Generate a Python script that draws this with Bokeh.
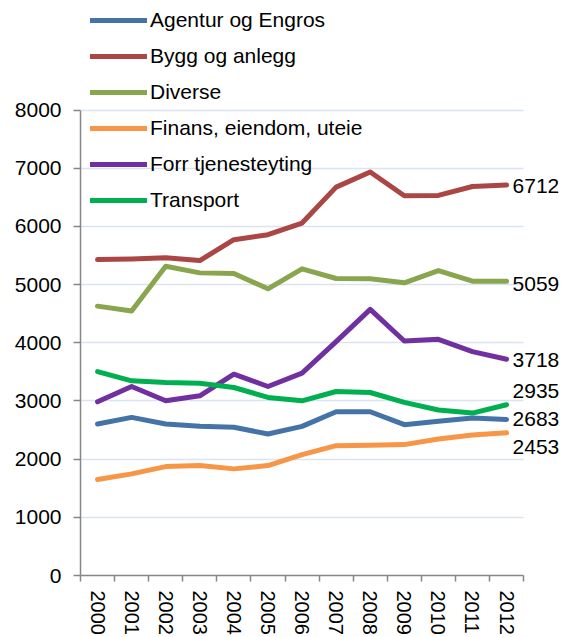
import math
from bokeh.plotting import figure
from bokeh.models import FixedTicker, Range1d, Legend, LegendItem, ColumnDataSource, Grid
from bokeh.embed import file_html
from bokeh.resources import INLINE
from bokeh.core.properties import value

years = ["2000", "2001", "2002", "2003", "2004", "2005", "2006",
         "2007", "2008", "2009", "2010", "2011", "2012"]
agentur = [2604, 2718, 2604, 2564, 2547, 2433, 2564, 2815, 2815, 2593, 2650, 2707, 2683]
bygg = [5430, 5440, 5460, 5413, 5773, 5859, 6059, 6676, 6935, 6527, 6533, 6686, 6712]
diverse = [4630, 4545, 5316, 5202, 5190, 4928, 5271, 5105, 5100, 5031, 5242, 5059, 5059]
finans = [1650, 1747, 1872, 1890, 1833, 1890, 2078, 2232, 2238, 2250, 2347, 2415, 2453]
forr = [2986, 3249, 3003, 3089, 3460, 3249, 3478, 4020, 4574, 4031, 4060, 3849, 3718]
transport = [3506, 3346, 3317, 3306, 3232, 3061, 3003, 3163, 3146, 2975, 2844, 2792, 2935]

series_names = ["Agentur og Engros", "Bygg og anlegg", "Diverse",
                "Finans, eiendom, uteie", "Forr tjenesteyting", "Transport"]
series_values = [agentur, bygg, diverse, finans, forr, transport]
y_ticks = [0, 1000, 2000, 3000, 4000, 5000, 6000, 7000, 8000]

colors = ["#4573a7", "#aa4643", "#89a54e", "#f79646", "#7030a0", "#00b050"]
end_label_dy = [0, 1, 3, 14, 1, -14]  # screen px shift (style only)

FONT = "Liberation Sans"
FS = "21px"

xs = list(range(len(years)))

p = figure(width=564, height=637,
           x_range=Range1d(-0.5, 13.70), y_range=Range1d(0, 9884),
           min_border_left=80, min_border_right=0, min_border_top=0,
           min_border_bottom=60,
           output_backend="svg", toolbar_location=None)
p.outline_line_color = None
p.background_fill_color = "white"

# grids
p.xgrid.visible = False
p.ygrid.grid_line_color = "#d9e3f1"
p.ygrid.grid_line_width = 1.5
p.ygrid.bounds = (0, 8000)
if "cross_bounds" in Grid.properties():
    p.ygrid.cross_bounds = (-0.5, 12.5)

# y axis
yax = p.yaxis[0]
yax.ticker = FixedTicker(ticks=y_ticks)
yax.bounds = (0, 8000)
yax.axis_line_color = "#868686"
yax.axis_line_width = 1.5
yax.major_tick_line_color = "#868686"
yax.major_tick_line_width = 1.5
yax.major_tick_out = 7
yax.major_tick_in = 0
yax.minor_tick_line_color = None
yax.major_label_standoff = 12
yax.major_label_text_font = FONT
yax.major_label_text_font_size = FS
yax.major_label_text_color = "black"

# x axis
xax = p.xaxis[0]
xax.ticker = FixedTicker(ticks=xs, minor_ticks=[i - 0.5 for i in range(len(years) + 1)])
xax.bounds = (-0.5, 12.5)
xax.major_label_overrides = {i: y for i, y in enumerate(years)}
xax.major_label_orientation = -math.pi / 2
xax.axis_line_color = "#868686"
xax.axis_line_width = 1.5
xax.major_tick_line_color = None
xax.major_tick_out = 0
xax.major_tick_in = 0
xax.minor_tick_line_color = "#868686"
xax.minor_tick_line_width = 1.5
xax.minor_tick_out = 6
xax.minor_tick_in = 0
xax.major_label_standoff = 9
xax.major_label_text_font = FONT
xax.major_label_text_font_size = "20px"
xax.major_label_text_color = "black"

items = []
for name, vals, col in zip(series_names, series_values, colors):
    r = p.line(xs, vals, line_color=col, line_width=5,
               line_cap="round", line_join="round")
    items.append(LegendItem(label=name, renderers=[r]))

# end labels
end_src = ColumnDataSource(dict(
    x=[xs[-1]] * len(series_values),
    y=[v[-1] for v in series_values],
    t=[str(v[-1]) for v in series_values],
    dy=end_label_dy,
))
p.text(x="x", y="y", text="t", source=end_src, x_offset=6, y_offset="dy",
       text_font=value(FONT), text_font_size=FS, text_color="black",
       text_baseline="middle", text_align="left")

legend = Legend(items=items, location=(10, 363),
                glyph_width=57, glyph_height=24, label_height=24,
                label_standoff=3, spacing=12, padding=0, margin=0,
                label_text_font=FONT, label_text_font_size=FS,
                label_text_color="black",
                background_fill_alpha=0, border_line_alpha=0)
p.add_layout(legend, "center")

open("out.html", "w").write(file_html(p, INLINE))
